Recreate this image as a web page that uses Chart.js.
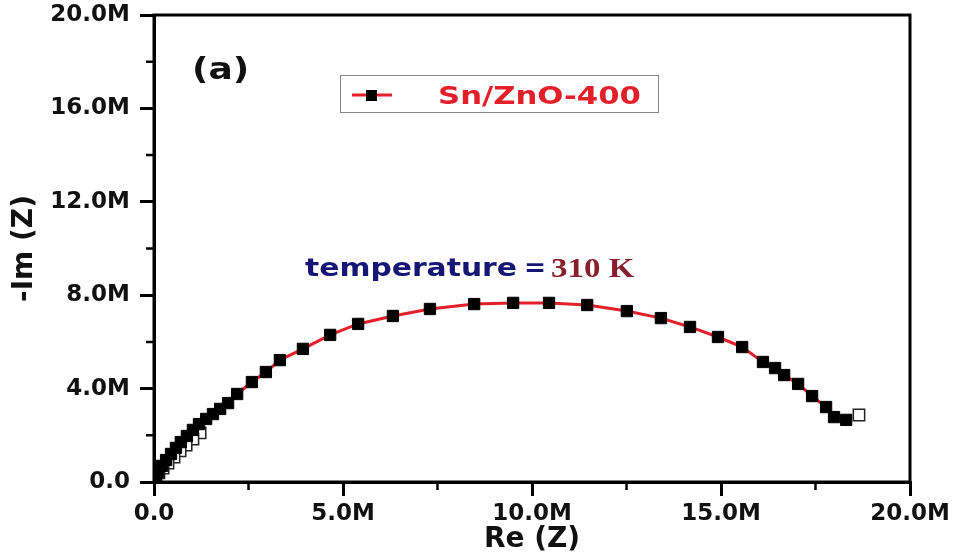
<!DOCTYPE html>
<html>
<head>
<meta charset="utf-8">
<script src="https://cdn.jsdelivr.net/npm/chart.js@4.4.1/dist/chart.umd.min.js"></script>
<style>
  html, body { margin: 0; padding: 0; background: #fff; }
  #wrap { width: 956px; height: 559px; }
</style>
</head>
<body>
<div id="wrap"><canvas id="nyquist"></canvas></div>
<script>
// Re(Z) and -Im(Z) in units of M (10^6)
const reZ = [18.31, 17.99, 17.78, 17.41, 17.04, 16.67, 16.43, 16.11, 15.56, 14.92, 14.18, 13.41,
  12.51, 11.46, 10.45, 9.50, 8.47, 7.30, 6.32, 5.40, 4.66, 3.94, 3.33, 2.96, 2.59, 2.20,
  1.96, 1.75, 1.56, 1.38, 1.19, 1.03, 0.87, 0.71, 0.58, 0.45, 0.32, 0.21, 0.11, 0.05];
const imZ = [2.66, 2.78, 3.21, 3.68, 4.20, 4.58, 4.88, 5.14, 5.78, 6.21, 6.64, 7.02,
  7.32, 7.58, 7.67, 7.67, 7.62, 7.41, 7.11, 6.77, 6.30, 5.70, 5.22, 4.71, 4.28, 3.77,
  3.38, 3.13, 2.91, 2.70, 2.48, 2.23, 1.97, 1.71, 1.46, 1.20, 0.94, 0.69, 0.43, 0.21];
// hollow points (ends of the sweep)
const reOpen = [18.65, 1.22, 1.03, 0.85, 0.69, 0.53, 0.37, 0.24, 0.13, 0.05, 0.03];
const imOpen = [2.87, 2.10, 1.84, 1.58, 1.33, 1.07, 0.81, 0.60, 0.39, 0.26, 0.17];

const xTicks = [0, 5, 10, 15, 20];
const yTicks = [0, 4, 8, 12, 16, 20];
const xMinor = [2.5, 7.5, 12.5, 17.5];
const yMinor = [2, 6, 10, 14, 18];

const seriesName = 'Sn/ZnO-400';

const fmt = v => v === 0 ? '0.0' : v.toFixed(1) + 'M';
const tickFont = { family: 'DejaVu Sans', weight: 'bold', size: 23 };
const titleFont = { family: 'DejaVu Sans', weight: 'bold', size: 28 };

function stretchText(ctx, txt, x, y, sx, font, color) {
    ctx.save();
    ctx.font = font;
    ctx.fillStyle = color;
    ctx.textBaseline = 'alphabetic';
    ctx.translate(x, y);
    ctx.scale(sx, 1);
    ctx.fillText(txt, 0, 0);
    const w = ctx.measureText(txt).width * sx;
    ctx.restore();
    return w;
}

const framePlugin = {
    id: 'frame',
    afterDraw(chart) {
        const ctx = chart.ctx;
        const a = chart.chartArea;
        const xs = chart.scales.x, ys = chart.scales.y;
        ctx.save();
        ctx.strokeStyle = '#000';
        ctx.lineWidth = 3;
        ctx.strokeRect(a.left, a.top, a.right - a.left, a.bottom - a.top);
        // minor ticks
        ctx.lineWidth = 2.5;
        ctx.beginPath();
        xMinor.forEach(v => {
            const p = xs.getPixelForValue(v);
            ctx.moveTo(p, a.bottom);
            ctx.lineTo(p, a.bottom + 8);
        });
        yMinor.forEach(v => {
            const p = ys.getPixelForValue(v);
            ctx.moveTo(a.left, p);
            ctx.lineTo(a.left - 8, p);
        });
        ctx.stroke();

        // legend box
        ctx.lineWidth = 1;
        ctx.strokeStyle = '#888';
        ctx.strokeRect(340.5, 75.5, 318, 37);
        ctx.strokeStyle = '#e3202a';
        ctx.lineWidth = 3;
        ctx.beginPath();
        ctx.moveTo(352, 95);
        ctx.lineTo(392, 95);
        ctx.stroke();
        ctx.fillStyle = '#000';
        ctx.fillRect(366, 90, 11, 11);
        stretchText(ctx, seriesName, 438, 104, 1.28, 'bold 24px "DejaVu Sans"', '#e3202a');

        // annotations
        stretchText(ctx, '(a)', 192, 79, 1.2, 'bold 30px "DejaVu Sans"', '#111');
        const w = stretchText(ctx, 'temperature', 305, 276, 1.24, 'bold 24px "DejaVu Sans"', '#161675');
        stretchText(ctx, '=', 305 + w + 7, 276, 1.1, 'bold 24px "DejaVu Sans"', '#161675');
        stretchText(ctx, '310 K', 551, 277, 1.22, 'bold 27px "Liberation Serif"', '#86202a');
        ctx.restore();
    }
};

new Chart(document.getElementById('nyquist'), {
    type: 'scatter',
    data: {
        datasets: [
            {
                label: seriesName,
                data: reZ.map((x, i) => ({ x: x, y: imZ[i] })),
                showLine: true,
                borderColor: '#e3202a',
                borderWidth: 3,
                pointStyle: 'rect',
                pointRadius: 8,
                pointBackgroundColor: '#000',
                pointBorderColor: '#000',
                pointBorderWidth: 1
            },
            {
                label: 'open',
                data: reOpen.map((x, i) => ({ x: x, y: imOpen[i] })),
                showLine: false,
                pointStyle: 'rect',
                pointRadius: 8,
                pointBackgroundColor: '#fff',
                pointBorderColor: '#222',
                pointBorderWidth: 1.5
            }
        ]
    },
    options: {
        responsive: true,
        maintainAspectRatio: false,
        animation: false,
        layout: { padding: { top: 15, right: 46, left: 0, bottom: 0 } },
        plugins: {
            legend: { display: false },
            tooltip: { enabled: false }
        },
        scales: {
            x: {
                type: 'linear',
                min: 0,
                max: 20,
                afterBuildTicks: s => { s.ticks = xTicks.map(v => ({ value: v })); },
                afterFit: s => { s.height = 77; s.paddingLeft = 0; s.paddingRight = 0; },
                grid: { drawOnChartArea: false, drawTicks: true, tickLength: 14, lineWidth: 3, color: '#000' },
                border: { display: true, width: 3, color: '#000' },
                ticks: { callback: fmt, font: tickFont, color: '#111', padding: 4, maxRotation: 0, autoSkip: false },
                title: { display: true, text: 'Re (Z)', font: titleFont, color: '#111', padding: { top: 0, bottom: 2 } }
            },
            y: {
                type: 'linear',
                min: 0,
                max: 20,
                afterBuildTicks: s => { s.ticks = yTicks.map(v => ({ value: v })); },
                afterFit: s => { s.width = 154; s.paddingTop = 0; s.paddingBottom = 0; },
                grid: { drawOnChartArea: false, drawTicks: true, tickLength: 14, lineWidth: 3, color: '#000' },
                border: { display: true, width: 3, color: '#000' },
                ticks: { callback: fmt, font: tickFont, color: '#111', padding: 10, autoSkip: false },
                title: { display: true, text: '-Im (Z)', font: titleFont, color: '#111', padding: { top: 8, bottom: 0 } }
            }
        }
    },
    plugins: [framePlugin]
});
</script>
</body>
</html>
